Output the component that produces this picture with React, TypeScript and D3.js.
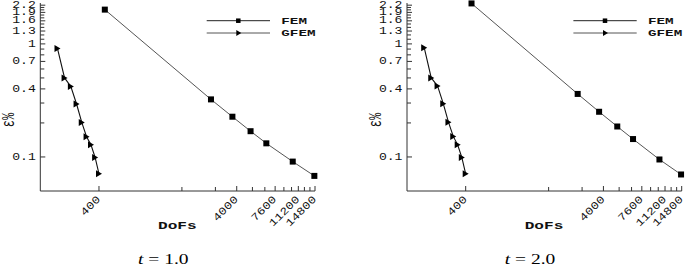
import React from 'react';
import * as d3 from 'd3';

const femDofs = [441, 2601, 3721, 5041, 6561, 10201, 14641];
const femErrT1 = [2.01, 0.323, 0.227, 0.169, 0.132, 0.091, 0.068];
const femErrT2 = [2.28, 0.361, 0.251, 0.186, 0.144, 0.095, 0.07];
const gfemDofs = [200, 225, 250, 275, 300, 325, 350, 375, 400];
const gfemErrT1 = [0.91, 0.5, 0.42, 0.294, 0.202, 0.151, 0.128, 0.099, 0.071];
const gfemErrT2 = [0.925, 0.5, 0.425, 0.296, 0.203, 0.152, 0.128, 0.099, 0.071];
const xTicks = [400, 1600, 2800, 4000, 5200, 6400, 7600, 8800, 10000, 11200, 12400, 13600, 14800];
const xTickLabels = [400, 4000, 7600, 11200, 14800];
const yTicks = [0.1, 0.2, 0.3, 0.4, 0.5, 0.6, 0.7, 0.8, 0.9, 1, 1.1, 1.2, 1.3, 1.4, 1.5, 1.6, 1.7, 1.8, 1.9, 2, 2.1, 2.2];
const yTickLabels = [0.1, 0.4, 0.7, 1, 1.3, 1.6, 1.9, 2.2];
const captions = ['1.0', '2.0'];
const seriesNames = ['FEM', 'GFEM'];

const W = 274.7;
const H = 188;
const mono = '"Liberation Mono", "DejaVu Sans Mono", monospace';
const serif = '"Liberation Serif", "DejaVu Serif", serif';

function Square({ x, y, s }: { x: number; y: number; s: number }) {
  return <rect x={x - s / 2} y={y - s / 2} width={s} height={s} fill="#000" />;
}
function Tri({ x, y, s }: { x: number; y: number; s: number }) {
  const p = `${x - s / 2},${y - s * 0.58} ${x + s / 2},${y} ${x - s / 2},${y + s * 0.58}`;
  return <polygon points={p} fill="#000" />;
}

function Panel({ ox, oy, fem, gfem, cap }: { ox: number; oy: number; fem: number[]; gfem: number[]; cap: string }) {
  const x = d3.scaleLog().domain([150, 14800]).range([0, W]);
  const y = d3.scaleLog().domain([0.05, 2.3]).range([H, 0]);
  const line = d3.line<[number, number]>().x(d => x(d[0])).y(d => y(d[1]));
  const femPts = femDofs.map((d, i) => [d, fem[i]] as [number, number]);
  const gfemPts = gfemDofs.map((d, i) => [d, gfem[i]] as [number, number]);
  return (
    <g transform={`translate(${ox},${oy})`}>
      <line x1={0} y1={0} x2={0} y2={H} stroke="#333" strokeWidth={1} />
      <line x1={0} y1={H} x2={W} y2={H} stroke="#333" strokeWidth={1} />
      {yTicks.map(t => {
        const major = yTickLabels.some(l => Math.abs(l - t) < 1e-9);
        return <line key={t} x1={0} x2={major ? 5 : 4} y1={y(t)} y2={y(t)} stroke="#333" strokeWidth={1} />;
      })}
      {yTickLabels.map(t => (
        <text key={t} transform={`translate(${-4.5},${y(t)}) scale(1.25,1)`} textAnchor="end" dominantBaseline="central"
          fontFamily={mono} fontSize={10.5} fill="#111">{String(t)}</text>
      ))}
      {xTicks.map(t => {
        const major = xTickLabels.includes(t);
        return <line key={t} x1={x(t)} x2={x(t)} y1={H} y2={H - (major ? 5 : 4)} stroke="#333" strokeWidth={1} />;
      })}
      {xTickLabels.map(t => (
        <text key={t} transform={`translate(${x(t)},${H + 7}) rotate(-45) scale(1.22,1)`} textAnchor="end" dominantBaseline="central"
          fontFamily={mono} fontSize={10.5} fill="#111">{String(t)}</text>
      ))}
      <text transform={`translate(${137},${H + 38}) scale(1.4,1)`} textAnchor="middle" fontFamily={mono} fontWeight="bold" fontSize={11.5} fill="#111">DoFs</text>
      <text transform={`translate(${-31},${117}) scale(1.5,1) rotate(-90)`} textAnchor="middle" dominantBaseline="central" fontFamily={mono} fontSize={12} fill="#111">ε%</text>
      <path d={line(femPts) || ''} fill="none" stroke="#555" strokeWidth={1} />
      <path d={line(gfemPts) || ''} fill="none" stroke="#111" strokeWidth={1.1} />
      {femPts.map((p, i) => <Square key={i} x={x(p[0])} y={y(p[1])} s={6} />)}
      {gfemPts.map((p, i) => <Tri key={i} x={x(p[0])} y={y(p[1])} s={6} />)}
      {seriesNames.map((n, i) => {
        const ly = 17.7 + i * 12.3;
        return (
          <g key={n}>
            <line x1={166.4} x2={229.7} y1={ly} y2={ly} stroke={i === 0 ? '#222' : '#555'} strokeWidth={1} />
            {i === 0 ? <Square x={198} y={ly} s={4.5} /> : <Tri x={198.5} y={ly} s={5} />}
            <text transform={`translate(${241},${ly + 2.9}) scale(1.5,1)`} fontFamily={mono} fontWeight="bold" fontSize={9.5} fill="#111">{n}</text>
          </g>
        );
      })}
      <text transform={`translate(${123},${260.5}) scale(1.3,1)`} textAnchor="middle" fontFamily={serif} fontSize={15} fill="#000">
        <tspan fontStyle="italic">t</tspan>
        <tspan> = {cap}</tspan>
      </text>
    </g>
  );
}

export default function App() {
  return (
    <svg width={685} height={267} style={{ position: 'absolute', left: 0, top: 0, background: '#fff' }}>
      <rect width={685} height={267} fill="#fff" />
      <Panel ox={40.3} oy={3} fem={femErrT1} gfem={gfemErrT1} cap={captions[0]} />
      <Panel ox={407} oy={3} fem={femErrT2} gfem={gfemErrT2} cap={captions[1]} />
    </svg>
  );
}
